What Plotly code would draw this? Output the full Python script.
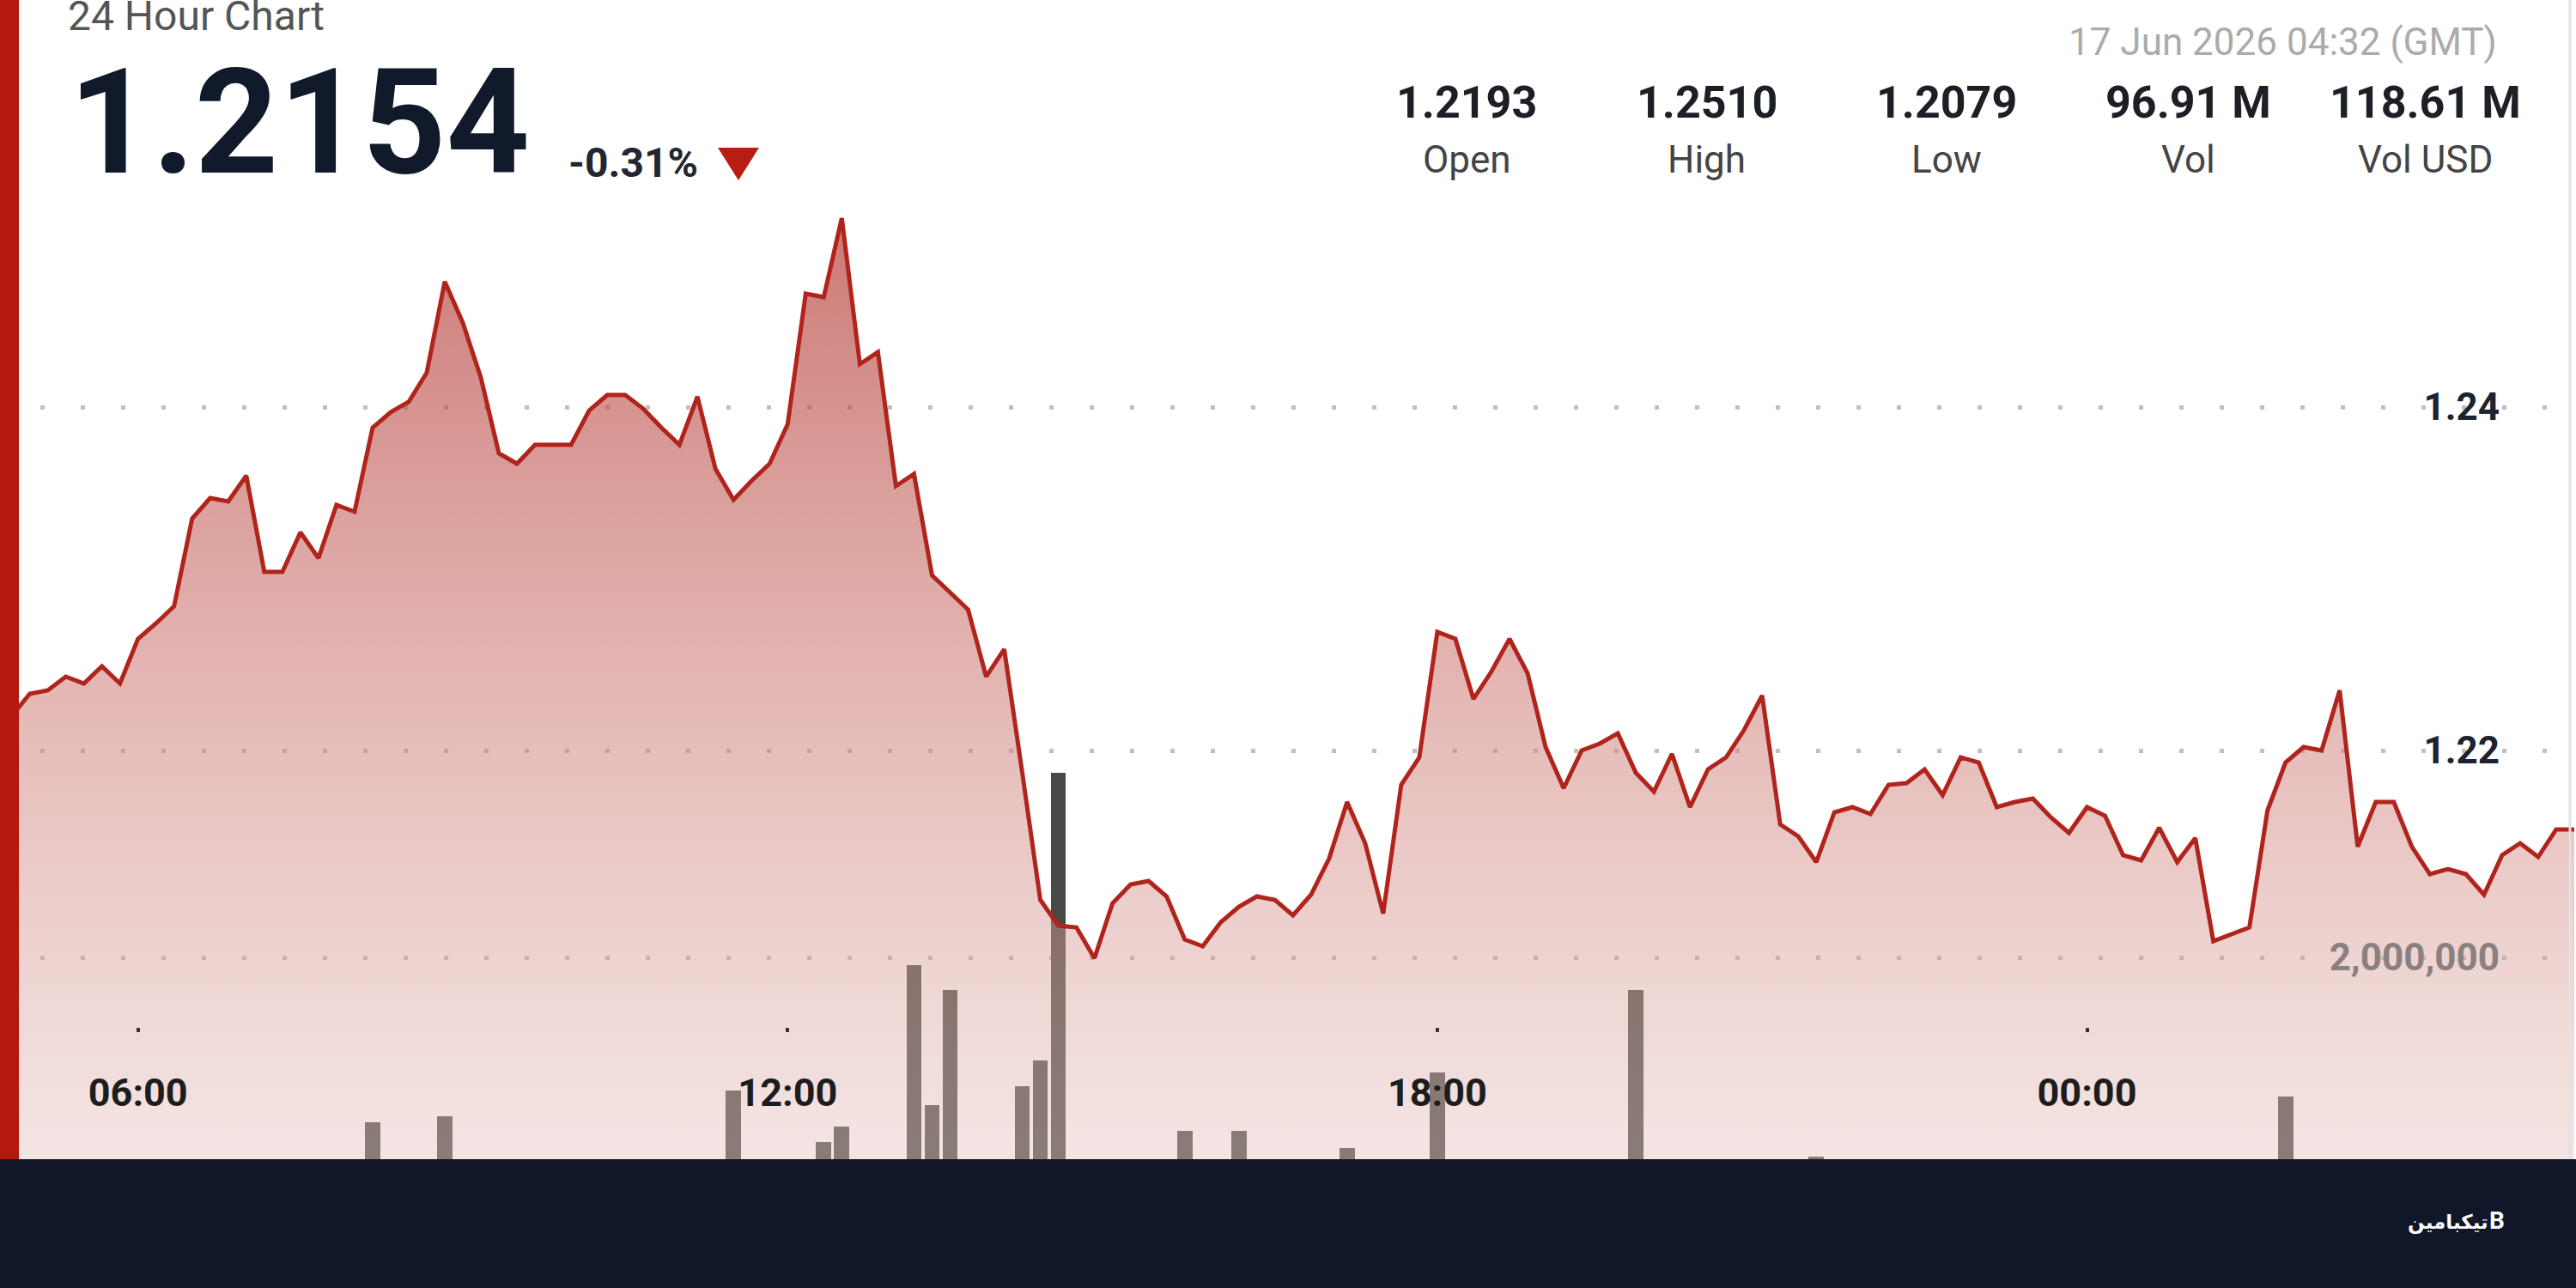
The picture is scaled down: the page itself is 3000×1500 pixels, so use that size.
import plotly.graph_objects as go
import pandas as pd

# ---------------- data ----------------
start_time = "2026-06-16 04:40"
price = [
    1.2216, 1.2220,                                   # 04:40-04:50
    1.2233, 1.2235, 1.2243, 1.2239, 1.2249, 1.2239,   # 05
    1.2265, 1.2274, 1.2284, 1.2335, 1.2347, 1.2345,   # 06
    1.2360, 1.2304, 1.2304, 1.2327, 1.2312, 1.2343,   # 07
    1.2339, 1.2388, 1.2397, 1.2403, 1.2420, 1.2473,   # 08
    1.2449, 1.2417, 1.2373, 1.2367, 1.2378, 1.2378,   # 09
    1.2378, 1.2398, 1.2407, 1.2407, 1.2399, 1.2388,   # 10
    1.2378, 1.2406, 1.2364, 1.2346, 1.2357, 1.2367,   # 11
    1.2390, 1.2466, 1.2464, 1.2510, 1.2425, 1.2432,   # 12
    1.2354, 1.2361, 1.2302, 1.2292, 1.2282, 1.2243,   # 13
    1.2259, 1.2187, 1.2113, 1.2098, 1.2097, 1.2079,   # 14
    1.2111, 1.2122, 1.2124, 1.2115, 1.2090, 1.2086,   # 15
    1.2100, 1.2109, 1.2115, 1.2113, 1.2104, 1.2116,   # 16
    1.2137, 1.2170, 1.2146, 1.2105, 1.2180, 1.2196,   # 17
    1.2269, 1.2265, 1.2230, 1.2246, 1.2265, 1.2245,   # 18
    1.2202, 1.2178, 1.2200, 1.2204, 1.2210, 1.2187,   # 19
    1.2176, 1.2198, 1.2167, 1.2189, 1.2196, 1.2212,   # 20
    1.2232, 1.2157, 1.2150, 1.2135, 1.2164, 1.2167,   # 21
    1.2163, 1.2180, 1.2181, 1.2189, 1.2174, 1.2196,   # 22
    1.2193, 1.2167, 1.2170, 1.2172, 1.2161, 1.2152,   # 23
    1.2167, 1.2162, 1.2139, 1.2136, 1.2155, 1.2135,   # 00
    1.2149, 1.2089, 1.2093, 1.2097, 1.2165, 1.2193,   # 01
    1.2202, 1.2200, 1.2235, 1.2144, 1.2170, 1.2170,   # 02
    1.2144, 1.2128, 1.2131, 1.2128, 1.2116, 1.2139,   # 03
    1.2146, 1.2138, 1.2154, 1.2154,                   # 04
]
times = pd.date_range(start_time, periods=len(price), freq="10min")

vol_times = [
    "2026-06-16 08:10", "2026-06-16 08:50", "2026-06-16 11:30", "2026-06-16 12:20",
    "2026-06-16 12:30", "2026-06-16 13:10", "2026-06-16 13:20", "2026-06-16 13:30",
    "2026-06-16 14:10", "2026-06-16 14:20", "2026-06-16 14:30", "2026-06-16 15:40",
    "2026-06-16 16:10", "2026-06-16 17:10", "2026-06-16 18:00", "2026-06-16 19:50",
    "2026-06-16 21:30", "2026-06-17 01:50",
]
vol_values = [
    650000, 700000, 910000, 490000,
    620000, 1940000, 790000, 1730000,
    950000, 1160000, 3510000, 580000,
    580000, 440000, 1060000, 1730000,
    370000, 860000,
]

x_tick_vals = ["2026-06-16 06:00", "2026-06-16 12:00", "2026-06-16 18:00", "2026-06-17 00:00"]
x_tick_text = ["06:00", "12:00", "18:00", "00:00"]
price_ticks = [1.22, 1.24]
price_tick_text = ["1.22", "1.24"]
vol_ticks = [2000000]
vol_tick_text = ["2,000,000"]

last_price = "1.2154"
change_pct = "-0.31%"
timestamp = "17 Jun 2026 04:32 (GMT)"
stat_values = ["1.2193", "1.2510", "1.2079", "96.91 M", "118.61 M"]
stat_labels = ["Open", "High", "Low", "Vol", "Vol USD"]

# ---------------- layout helpers ----------------
W, H = 3000, 1500


def px(x):
    return x / W


def py(y):
    return 1 - y / H


FONT = "Roboto"
fig = go.Figure()

fig.add_trace(go.Bar(
    x=vol_times, y=vol_values, yaxis="y", xaxis="x",
    marker=dict(color="rgb(70,73,70)", line=dict(width=0)),
    width=510000, hoverinfo="skip", showlegend=False,
))

fig.add_trace(go.Scatter(
    x=times, y=price, yaxis="y2", xaxis="x", mode="lines",
    line=dict(color="#b0241c", width=5),
    fill="tozeroy",
    fillgradient=dict(
        type="vertical", start=1.19, stop=1.2515,
        colorscale=[[0, "rgba(234,212,208,0.40)"],
                    [0.5, "rgba(205,122,116,0.50)"],
                    [1, "rgba(176,46,40,0.65)"]],
    ),
    showlegend=False,
))

grid_dash = "5px,42px"
fig.update_layout(
    width=W, height=H,
    margin=dict(l=0, r=0, t=0, b=0),
    paper_bgcolor="white", plot_bgcolor="white",
    bargap=0,
    xaxis=dict(
        type="date",
        range=["2026-06-16 04:43:32", "2026-06-17 04:30:58"],
        tickvals=x_tick_vals, ticktext=x_tick_text,
        anchor="free", position=py(1202),
        showgrid=False, zeroline=False, showline=False,
        ticks="inside", ticklen=5, tickwidth=4, tickcolor="#333333",
        tickfont=dict(family=FONT, size=45, color="#1d1d1d", weight="bold"),
        ticklabelstandoff=40,
    ),
    yaxis=dict(
        range=[-701800, 9825200],
        side="right", ticklabelposition="inside",
        tickvals=vol_ticks, ticktext=vol_tick_text,
        showgrid=True, gridcolor="rgba(150,150,150,0.6)", gridwidth=5, griddash=grid_dash,
        zeroline=False, showline=False, ticks="",
        tickfont=dict(family=FONT, size=44, color="#8a8080", weight="bold"),
        ticklabelstandoff=86,
    ),
    yaxis2=dict(
        range=[1.1887, 1.2637],
        overlaying="y", side="right", ticklabelposition="inside",
        tickvals=price_ticks, ticktext=price_tick_text,
        showgrid=True, gridcolor="rgba(150,150,150,0.6)", gridwidth=5, griddash=grid_dash,
        zeroline=False, showline=False, ticks="",
        tickfont=dict(family=FONT, size=44, color="#1d2330", weight="bold"),
        ticklabelstandoff=86,
    ),
)

shapes = [
    # left red stripe
    dict(type="rect", xref="paper", yref="paper", x0=0, x1=px(22), y0=py(1350), y1=1,
         fillcolor="#b3190f", line=dict(width=0), layer="above"),
    # right thin border
    dict(type="line", xref="paper", yref="paper", x0=px(2993), x1=px(2993), y0=py(1350), y1=1,
         line=dict(color="#e2e2e2", width=3), layer="above"),
    # red down triangle
    dict(type="path", xref="paper", yref="paper",
         path=f"M {px(836)},{py(172)} L {px(884)},{py(172)} L {px(860)},{py(210)} Z",
         fillcolor="#b81d14", line=dict(width=0), layer="above"),
    # bottom dark banner
    dict(type="rect", xref="paper", yref="paper", x0=0, x1=1, y0=0, y1=py(1350),
         fillcolor="#0f1729", line=dict(width=0), layer="above"),
]

ann = []
ann.append(dict(text="24 Hour Chart", x=px(77), y=py(18), xanchor="left", yanchor="middle",
                font=dict(family=FONT, size=48, color="#555555")))
ann.append(dict(text=last_price, x=px(78), y=py(143), xanchor="left", yanchor="middle",
                font=dict(family=FONT, size=170, color="#111a2b", weight="bold")))
ann.append(dict(text=change_pct, x=px(660), y=py(189), xanchor="left", yanchor="middle",
                font=dict(family=FONT, size=48, color="#222630", weight="bold")))
ann.append(dict(text=timestamp, x=px(2910), y=py(49), xanchor="right", yanchor="middle",
                font=dict(family=FONT, size=44, color="#ababab")))
stat_x = [1708, 1988, 2267, 2548, 2824]
for sx, v, lab in zip(stat_x, stat_values, stat_labels):
    ann.append(dict(text=v, x=px(sx), y=py(119), xanchor="center", yanchor="middle",
                    font=dict(family=FONT, size=52, color="#1c1f26", weight="bold")))
    ann.append(dict(text=lab, x=px(sx), y=py(186), xanchor="center", yanchor="middle",
                    font=dict(family=FONT, size=44, color="#444444")))
# watermark
ann.append(dict(text="تیکبامین", x=px(2900), y=py(1423), xanchor="right", yanchor="middle",
                font=dict(family="DejaVu Sans", size=23, color="white", weight="bold")))
ann.append(dict(text="B", x=px(2897), y=py(1421), xanchor="left", yanchor="middle",
                font=dict(family=FONT, size=28, color="white", weight="bold")))

for a in ann:
    a.update(xref="paper", yref="paper", showarrow=False)

fig.update_layout(shapes=shapes, annotations=ann)

fig.write_html("out.html")
